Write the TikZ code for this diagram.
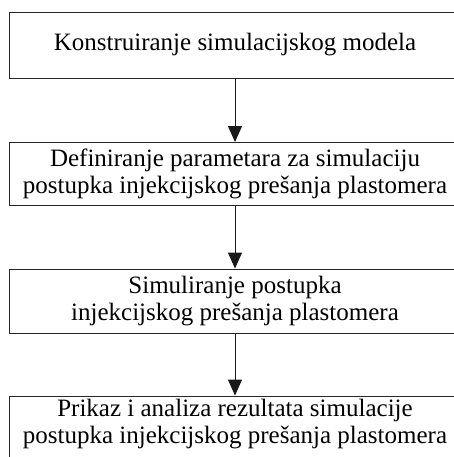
\documentclass[tikz,border=0pt]{standalone}
\usepackage{fontspec}
\setmainfont{Liberation Serif}
\usetikzlibrary{arrows.meta}
\begin{document}
\begin{tikzpicture}[x=1pt,y=-1pt,
  txt/.style={font=\fontsize{25}{27}\selectfont,align=center,inner sep=0pt},
  stepbox/.style={draw=black!85,line width=0.9pt,rectangle,minimum width=452pt,txt},
  link/.style={draw=black!90,line width=1pt,-{Triangle[width=14pt,length=16pt]}}]
\clip (0,0) rectangle (454,457);
\fill[white] (0,0) rectangle (454,457);
\node[stepbox,minimum height=66pt] (b1) at (235,45) {Konstruiranje simulacijskog modela};
\node[stepbox,minimum height=62.5pt] (b2) at (235,173.75) {Definiranje parametara za simulaciju\\postupka injekcijskog prešanja plastomera};
\node[stepbox,minimum height=64pt] (b3) at (235,301) {Simuliranje postupka\\injekcijskog prešanja plastomera};
\node[stepbox,minimum height=74pt] (b4) at (235,433) {};
\node[txt] (t4) at (235,424) {Prikaz i analiza rezultata simulacije\\postupka injekcijskog prešanja plastomera};
\draw[link] (b1) -- (b2);
\draw[link] (b2) -- (b3);
\draw[link] (b3) -- (b4);
\end{tikzpicture}
\end{document}
